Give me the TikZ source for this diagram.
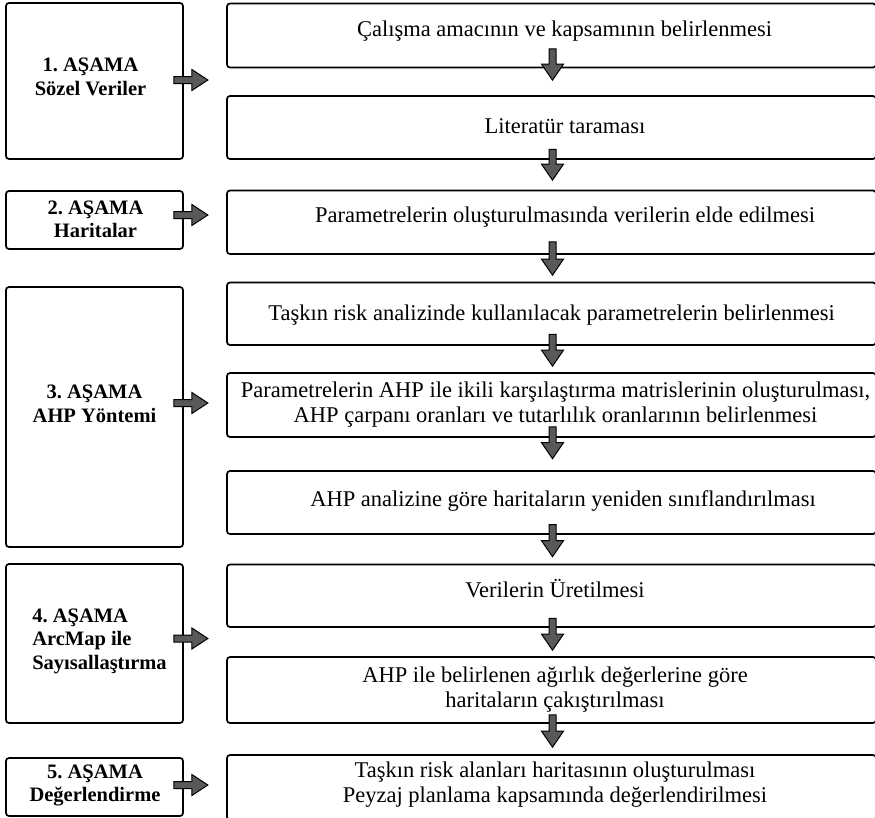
\documentclass[tikz,border=0pt]{standalone}
\usepackage{fontspec}
\setmainfont{Liberation Serif}
\usetikzlibrary{calc}
\begin{document}
\begin{tikzpicture}[x=1pt,y=-1pt,
  box/.style={draw, rounded corners=3pt, line width=1.7pt, inner sep=0pt},
  lbox/.style={box, minimum width=177pt},
  rbox/.style={box, minimum width=649pt},
  rtxt/.style={align=center, inner sep=0pt, font=\fontsize{22.5}{24.5}\selectfont},
  ltxt/.style={align=center, inner sep=0pt, font=\fontsize{20.5}{23.5}\selectfont\bfseries},
  fatarr/.style={draw=black, fill=black!65, line width=1pt, line join=miter}
]
\useasboundingbox (0,0) rectangle (875,817);
\begin{scope}
\clip (0,0) rectangle (875,817);
% left boxes
\node[lbox, minimum height=156pt] (l1) at (94.5,81) {};
\node[lbox, minimum height=58pt] (l2) at (94.5,220) {};
\node[lbox, minimum height=260pt] (l3) at (94.5,417) {};
\node[lbox, minimum height=159pt] (l4) at (94.5,643.5) {};
\node[lbox, minimum height=58pt] (l5) at (94.5,787) {};
% right boxes
\node[rbox, minimum height=64pt] (r1) at (551.5,35.5) {};
\node[rbox, minimum height=63pt] (r2) at (551.5,127.5) {};
\node[rbox, minimum height=63.5pt] (r3) at (551.5,222.25) {};
\node[rbox, minimum height=62.5pt] (r4) at (551.5,313.75) {};
\node[rbox, minimum height=64pt] (r5) at (551.5,405) {};
\node[rbox, minimum height=63pt] (r6) at (551.5,502.5) {};
\node[rbox, minimum height=62.5pt] (r7) at (551.5,595.75) {};
\node[rbox, minimum height=66pt] (r8) at (551.5,690) {};
\node[rbox, minimum height=65pt] (r9) at (551.5,787.5) {};
\end{scope}
% left texts
\node[ltxt] (t1) at ($(l1.center)+(-4,-4)$) {1.\ AŞAMA\\Sözel Veriler};
\node[ltxt] (t2) at ($(l2.center)+(1,-0.5)$) {2.\ AŞAMA\\Haritalar};
\node[ltxt] (t3) at ($(l3.center)+(0,-13)$) {3.\ AŞAMA\\AHP Yöntemi};
\node[ltxt, align=left] (t4) at ($(l4.center)+(5,-2.5)$) {4.\ AŞAMA\\ArcMap ile\\Sayısallaştırma};
\node[ltxt] (t5) at ($(l5.center)+(0.5,-1.5)$) {5.\ AŞAMA\\Değerlendirme};
% right texts
\node[rtxt, anchor=base] (s1) at ($(r1.center)+(13,0.5)$) {Çalışma amacının ve kapsamının belirlenmesi};
\node[rtxt, anchor=base] (s2) at ($(r2.center)+(13.5,6)$) {Literatür taraması};
\node[rtxt, anchor=base] (s3) at ($(r3.center)+(13.5,0.5)$) {Parametrelerin oluşturulmasında verilerin elde edilmesi};
\node[rtxt, anchor=base] (s4) at ($(r4.center)+(0,6.5)$) {Taşkın risk analizinde kullanılacak parametrelerin belirlenmesi};
\node[rtxt] (s5) at ($(r5.center)+(4,-0.5)$) {Parametrelerin AHP ile ikili karşılaştırma matrislerinin oluşturulması,\\AHP çarpanı oranları ve tutarlılık oranlarının belirlenmesi};
\node[rtxt, anchor=base] (s6) at ($(r6.center)+(11.5,3.5)$) {AHP analizine göre haritaların yeniden sınıflandırılması};
\node[rtxt, anchor=base] (s7) at ($(r7.center)+(3.5,1.75)$) {Verilerin Üretilmesi};
\node[rtxt] (s8) at ($(r8.center)+(3.5,-0.5)$) {AHP ile belirlenen ağırlık değerlerine göre\\haritaların çakıştırılması};
\node[rtxt] (s9) at ($(r9.center)+(3.5,-3)$) {Taşkın risk alanları haritasının oluşturulması\\Peyzaj planlama kapsamında değerlendirilmesi};
% arrow macros
\newcommand\fatdown[2]{\filldraw[fatarr] let \p1=(#1), \p2=(#2) in
  (\x1-3.5pt,\y1) -- (\x1+3.5pt,\y1) -- (\x1+3.5pt,\y2+16pt) -- (\x1+11pt,\y2+16pt)
  -- (\x1,\y2) -- (\x1-11pt,\y2+16pt) -- (\x1-3.5pt,\y2+16pt) -- cycle;}
\newcommand\fatright[2]{\filldraw[fatarr] let \p1=(#1), \p2=(#2) in
  (\x1,\y1+3.5pt) -- (\x2-16pt,\y1+3.5pt) -- (\x2-16pt,\y1+10.5pt) -- (\x2,\y1)
  -- (\x2-16pt,\y1-10.5pt) -- (\x2-16pt,\y1-3.5pt) -- (\x1,\y1-3.5pt) -- cycle;}
% down arrows
\fatdown{$(r1.south)+(1,-19.5)$}{$(r2.north)+(1,-15)$}
\fatdown{$(r2.south)+(1,-10.5)$}{$(r3.north)+(1,-9.5)$}
\fatdown{$(r3.south)+(1,-13)$}{$(r4.north)+(1,-6.5)$}
\fatdown{$(r4.south)+(1,-11.5)$}{$(r5.north)+(1,-6)$}
\fatdown{$(r5.south)+(1,-11)$}{$(r6.north)+(1,-11.5)$}
\fatdown{$(r6.south)+(1,-10.3)$}{$(r7.north)+(1,-7)$}
\fatdown{$(r7.south)+(1,-9.5)$}{$(r8.north)+(1,-6)$}
\fatdown{$(r8.south)+(1,-9)$}{$(r9.north)+(1,-7)$}
% right arrows
\fatright{$(l1.east)+(-10,-1)$}{$(l1.east)+(24,-1)$}
\fatright{$(l2.east)+(-10,-5)$}{$(l2.east)+(24,-5)$}
\fatright{$(l3.east)+(-10,-14)$}{$(l3.east)+(24,-14)$}
\fatright{$(l4.east)+(-10,-5)$}{$(l4.east)+(24,-5)$}
\fatright{$(l5.east)+(-10,-2)$}{$(l5.east)+(24,-2)$}
\end{tikzpicture}
\end{document}
